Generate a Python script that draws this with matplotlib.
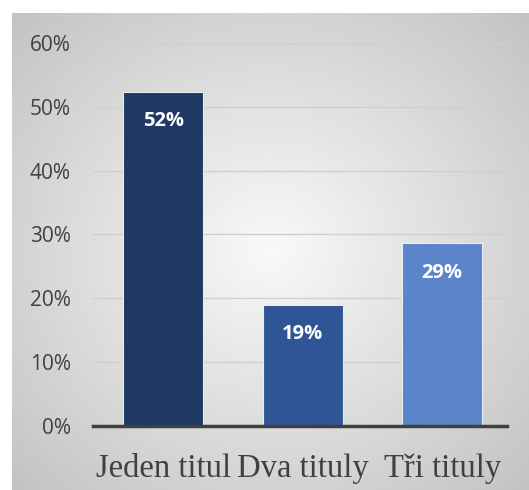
import numpy as np
import matplotlib
matplotlib.use('Agg')
import matplotlib.pyplot as plt

categories = ['Jeden titul', 'Dva tituly', 'Tři tituly']
values = [0.523, 0.190, 0.286]
labels = ['52%', '19%', '29%']
colors = ['#203864', '#2F5597', '#5B84C9']
yticks = [0, 0.1, 0.2, 0.3, 0.4, 0.5, 0.6]

fig = plt.figure(figsize=(5.29, 4.90), dpi=100)

# radial gray gradient panel behind the chart
bg = fig.add_axes([12 / 529, 0, 1 - 12 / 529, 1 - 13 / 490], zorder=-1)
yy, xx = np.mgrid[-1:1:300j, -1:1:300j]
r = np.sqrt(xx ** 2 + yy ** 2)
shade = 0.975 - 0.15 * r
bg.imshow(shade, cmap='gray', vmin=0, vmax=1, aspect='auto', extent=[0, 1, 0, 1])
bg.axis('off')

ax = fig.add_axes([93 / 529, 1 - 426 / 490, (507 - 93) / 529, (426 - 43) / 490])
ax.patch.set_alpha(0)
x = np.arange(len(categories))
bars = ax.bar(x, values, width=0.575, color=colors, edgecolor='#e8ecf4', linewidth=0.8, zorder=3)

for b, lab in zip(bars, labels):
    ax.annotate(lab, (b.get_x() + b.get_width() / 2, b.get_height()),
                xytext=(0, -21), textcoords='offset points', ha='center', va='center',
                color='white', fontsize=14.5, fontweight='bold', family='Open Sans', zorder=4)

ax.set_xlim(-0.505, 2.465)
ax.set_ylim(0, 0.6)
ax.set_yticks(yticks)
ax.set_yticklabels([f'{int(round(t * 100))}%' for t in yticks], family='Open Sans', fontsize=15, color='#404040')
ax.set_xticks(x)
ax.set_xticklabels(categories, family='Liberation Serif', fontsize=23.5, color='#404040')
ax.tick_params(axis='y', length=0, pad=16)
ax.tick_params(axis='x', length=0, pad=19.5)
ax.grid(axis='y', color='#cfcfcf', linewidth=1, zorder=0)
for s in ['top', 'right', 'left']:
    ax.spines[s].set_visible(False)
ax.spines['bottom'].set_color('#404040')
ax.spines['bottom'].set_linewidth(2.5)
ax.spines['bottom'].set_zorder(5)

fig.savefig('out.png', dpi=100)
